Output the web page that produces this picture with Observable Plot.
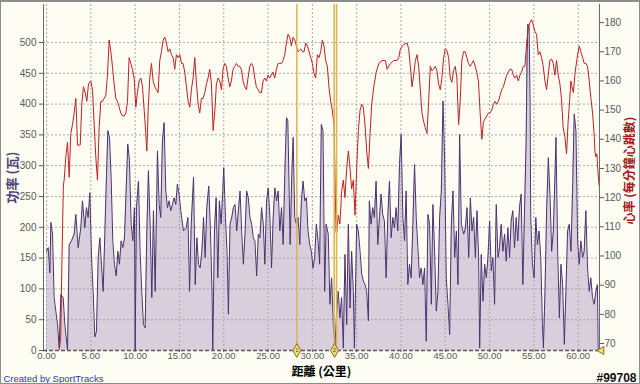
<!DOCTYPE html>
<html>
<head>
<meta charset="utf-8">
<script src="https://cdn.jsdelivr.net/npm/d3@7"></script>
<script src="https://cdn.jsdelivr.net/npm/@observablehq/plot@0.6"></script>
<style>
  html, body { margin: 0; padding: 0; background: #fdfdf4; }
  #wrap { position: relative; width: 640px; height: 384px; overflow: hidden; background: #fdfdf4; }
  #wrap svg { position: absolute; left: 0; top: 0; }
  #border { position: absolute; left: 0; top: 0; width: 640px; height: 384px; box-sizing: border-box;
            border: 1px solid #8c8c8c; border-top: 2px solid #8c8c8c; pointer-events: none; }
</style>
</head>
<body>
<div id="wrap"><div id="border"></div></div>
<script>
// ---- data (distance km, power W) ----
const powerSamples = [
[0,161],[0.19,167],[0.38,126],[0.49,208],[0.68,189],[0.86,86],[1.05,64],[1.24,42],[1.43,4],[1.62,91],
[1.88,86],[2.07,42],[2.37,0],[2.56,172],[2.82,178],[3.12,189],[3.31,221],[3.57,167],[3.87,199],[4.06,243],
[4.32,199],[4.51,232],[4.70,216],[4.89,256],[5.08,151],[5.26,96],[5.45,22],[5.64,31],[5.83,151],[6.02,183],
[6.20,140],[6.39,96],[6.58,189],[6.77,286],[6.92,357],[7.11,346],[7.29,281],[7.48,178],[7.67,140],[7.86,121],
[8.05,161],[8.23,140],[8.42,178],[8.61,167],[8.80,183],[8.98,259],[9.17,335],[9.36,308],[9.55,205],[9.74,178],
[9.92,232],[10.00,0],[10.15,232],[10.38,275],[10.56,161],[10.75,96],[10.94,42],[11.13,37],[11.32,194],[11.50,292],
[11.69,205],[11.88,86],[12.07,227],[12.26,96],[12.52,324],[12.71,237],[12.89,216],[13.08,340],[13.27,370],[13.46,259],
[13.65,232],[13.83,243],[14.02,227],[14.21,237],[14.40,248],[14.59,237],[14.77,270],[14.96,254],[15.15,227],[15.45,194],
[15.77,199],[15.96,216],[16.14,96],[16.33,205],[16.59,281],[16.78,107],[16.97,183],[17.15,140],[17.34,134],[17.53,161],
[17.72,216],[17.90,151],[18.09,232],[18.31,267],[18.50,194],[18.69,86],[18.76,0],[18.95,194],[19.14,248],[19.33,118],
[19.51,243],[19.70,205],[19.89,259],[20.00,297],[20.19,216],[20.37,161],[20.52,59],[20.71,205],[20.90,216],[21.09,232],
[21.27,237],[21.46,194],[21.65,227],[21.84,259],[22.02,194],[22.21,140],[22.40,189],[22.58,259],[22.77,248],[22.96,216],
[23.15,205],[23.33,183],[23.52,178],[23.71,121],[23.90,189],[24.08,183],[24.27,232],[24.46,205],[24.64,140],[24.83,243],
[25.02,264],[25.21,216],[25.39,134],[25.58,216],[25.77,264],[25.96,243],[26.14,259],[26.33,194],[26.52,232],[26.70,172],
[26.89,286],[27.08,378],[27.23,373],[27.38,259],[27.49,172],[27.68,286],[27.83,346],[28.01,216],[28.20,205],[28.39,216],
[28.58,172],[28.76,243],[28.95,275],[29.14,243],[29.33,248],[29.51,194],[29.70,172],[29.89,161],[30.07,134],[30.26,151],
[30.45,205],[30.64,178],[30.82,140],[31.01,367],[31.20,357],[31.39,96],[31.55,205],[31.79,189],[31.98,75],[32.17,118],
[32.36,42],[32.55,10],[32.74,60],[32.92,96],[33.11,53],[33.30,86],[33.49,4],[33.68,156],[33.87,42],[34.06,205],
[34.25,69],[34.43,161],[34.62,96],[34.74,4],[35.00,205],[35.19,194],[35.38,161],[35.57,124],[35.75,113],[35.94,107],
[36.13,96],[36.32,48],[36.43,243],[36.62,205],[36.81,232],[37.00,216],[37.19,275],[37.38,172],[37.57,216],[37.75,254],
[37.94,221],[38.13,210],[38.32,118],[38.51,216],[38.70,275],[38.89,183],[39.08,216],[39.26,199],[39.45,232],[39.64,194],
[39.83,302],[40.02,351],[40.21,216],[40.40,178],[40.58,259],[40.77,107],[40.96,140],[41.15,118],[41.34,205],[41.53,302],
[41.72,216],[41.91,167],[42.09,118],[42.28,134],[42.47,107],[42.66,134],[42.85,15],[43.04,221],[43.23,205],[43.42,75],
[43.60,237],[43.79,161],[43.98,64],[44.17,96],[44.36,216],[44.55,259],[44.74,405],[44.92,313],[45.11,118],[45.30,75],
[45.49,26],[45.68,205],[45.87,259],[46.06,151],[46.25,194],[46.43,107],[46.62,351],[46.81,205],[47.08,189],[47.27,199],
[47.45,232],[47.64,151],[47.83,248],[48.01,194],[48.20,216],[48.39,151],[48.58,227],[48.76,151],[48.88,4],[49.06,156],
[49.25,80],[49.44,140],[49.63,118],[49.81,151],[50.00,210],[50.19,129],[50.37,151],[50.56,75],[50.75,237],[50.94,151],
[51.12,167],[51.31,205],[51.50,161],[51.69,189],[51.87,145],[52.06,199],[52.25,151],[52.43,210],[52.62,227],[52.81,167],
[53.00,216],[53.18,178],[53.37,232],[53.56,254],[53.75,107],[53.93,221],[54.12,340],[54.23,480],[54.31,530],[54.46,525],
[54.57,400],[54.64,216],[54.83,140],[55.02,118],[55.21,216],[55.39,172],[55.58,194],[55.77,151],[55.96,42],[56.07,4],
[56.25,96],[56.44,232],[56.63,313],[56.82,248],[57.00,161],[57.19,194],[57.38,286],[57.49,346],[57.68,161],[57.87,53],
[58.05,140],[58.24,107],[58.43,10],[58.61,96],[58.80,194],[58.99,205],[59.18,161],[59.36,259],[59.55,384],[59.74,357],
[59.93,178],[60.11,140],[60.30,178],[60.49,151],[60.67,161],[60.86,227],[61.05,134],[61.24,96],[61.42,118],[61.61,86],
[61.80,75],[61.99,96],[62.17,107],[62.25,0]
];

// ---- data (distance km, heart rate bpm) ----
const hrSamples = [
[1.45,68],[1.60,72],[1.75,100],[1.90,124],[1.99,126],[2.18,134],[2.37,139],[2.56,127],[2.74,142],[2.93,145],
[3.12,149],[3.31,154],[3.50,138],[3.80,138],[3.98,152],[4.17,158],[4.36,156],[4.55,153],[4.74,159],[5.00,160],
[5.19,157],[5.38,145],[5.56,134],[5.75,126],[5.94,144],[6.13,153],[6.32,153],[6.50,154],[6.69,155],[6.88,162],
[7.07,174],[7.26,170],[7.44,165],[7.63,159],[7.82,154],[8.01,153],[8.20,151],[8.38,149],[8.57,148],[8.76,148],
[8.95,149],[9.14,153],[9.32,168],[9.51,166],[9.70,164],[9.89,161],[10.08,151],[10.26,156],[10.45,160],[10.64,161],
[10.83,158],[11.02,150],[11.20,142],[11.32,136],[11.47,150],[11.65,161],[11.84,166],[12.03,160],[12.22,158],[12.41,157],
[12.59,156],[12.78,167],[12.97,170],[13.16,174],[13.35,175],[13.53,173],[13.72,170],[13.91,171],[14.10,169],[14.29,168],
[14.47,164],[14.66,169],[14.85,168],[15.04,169],[15.23,166],[15.41,166],[15.60,163],[15.79,158],[15.98,153],[16.17,151],
[16.35,157],[16.54,161],[16.73,168],[16.92,159],[17.11,152],[17.29,149],[17.48,154],[17.67,154],[17.86,156],[18.05,159],
[18.23,161],[18.42,164],[18.61,159],[18.80,143],[19.00,150],[19.17,159],[19.36,161],[19.55,160],[19.74,157],[19.92,164],
[20.11,166],[20.30,165],[20.49,161],[20.68,158],[20.86,160],[21.05,164],[21.24,165],[21.43,166],[21.62,165],[21.80,165],
[21.99,164],[22.18,160],[22.37,158],[22.56,157],[22.74,161],[22.93,165],[23.12,166],[23.31,165],[23.50,161],[23.68,158],
[23.87,157],[24.06,156],[24.25,156],[24.44,160],[24.62,161],[24.81,160],[25.00,162],[25.19,161],[25.38,162],[25.56,163],
[25.75,161],[25.94,164],[26.13,166],[26.32,166],[26.50,166],[26.69,167],[26.88,169],[27.07,173],[27.26,176],[27.44,175],
[27.63,172],[27.82,175],[28.01,174],[28.20,172],[28.38,170],[28.69,171],[28.88,170],[29.06,170],[29.25,173],[29.44,172],
[29.63,170],[29.81,168],[30.00,166],[30.19,162.5],[30.37,161],[30.56,169],[30.75,168],[30.94,170],[31.12,174],[31.31,172],
[31.50,167],[31.69,165],[31.87,158],[32.06,153],[32.25,150],[32.45,145],[32.58,122],[32.68,108],[32.74,108],[32.92,114],
[33.11,111],[33.30,122],[33.49,126],[33.68,120],[33.87,130],[34.06,136],[34.25,130],[34.43,123],[34.62,126],[34.81,114],
[35.00,130],[35.19,143],[35.38,150],[35.57,152],[35.75,151],[35.94,145],[36.13,136],[36.32,130],[36.51,142],[36.70,152],
[36.93,158],[37.20,163],[37.50,166],[37.87,167],[38.25,167],[38.43,164],[38.81,166],[39.18,167],[39.56,167],[39.75,168],
[39.93,171],[40.31,172.5],[40.68,173],[40.87,171],[41.06,165],[41.24,158],[41.43,162],[41.62,167],[41.81,169],[41.99,165],
[42.18,157],[42.37,149],[42.56,146],[42.74,144],[42.93,142],[43.12,153],[43.31,165],[43.49,163.5],[43.68,164],[43.87,165],
[44.06,163.5],[44.24,159],[44.43,157],[44.62,161],[44.81,168],[44.99,171],[45.18,170.5],[45.37,168],[45.56,161],[45.74,159.5],
[45.93,163.5],[46.12,165],[46.31,161],[46.50,145],[46.68,153],[46.87,167],[47.06,170],[47.24,170],[47.43,168],[47.62,166],
[47.81,165],[47.99,166],[48.18,167],[48.37,165],[48.55,163],[48.74,160],[48.93,149],[49.12,140],[49.30,146],[49.49,147],
[49.68,148],[49.87,149],[50.05,149],[50.24,150],[50.43,152],[50.62,153],[50.80,152],[50.99,153],[51.18,155],[51.36,157],
[51.55,158],[51.74,160],[51.93,162],[52.11,163],[52.30,164],[52.49,164],[52.68,162],[52.86,161],[53.05,162],[53.24,160],
[53.43,162],[53.61,163],[53.80,165],[53.99,165],[54.18,173],[54.36,178],[54.55,180],[54.74,181],[54.93,179],[55.11,177],
[55.30,176],[55.49,169],[55.68,170],[55.86,168],[56.05,165],[56.24,160],[56.43,157],[56.61,162],[56.80,167],[56.99,167.5],
[57.18,166],[57.36,162],[57.55,167],[57.74,162],[57.93,159],[58.11,154],[58.30,144],[58.49,141],[58.68,135],[58.86,146],
[59.05,154],[59.17,160],[59.30,158],[59.45,156],[59.65,163],[59.93,169],[60.12,172],[60.30,170],[60.49,168],[60.68,166],
[60.87,166],[61.05,165],[61.24,160],[61.43,154],[61.62,149],[61.81,141],[61.88,136],[61.99,134],[62.10,135],[62.25,128],
[62.36,124]
];

// ---- ticks, markers, labels ----
const distanceTicks = [0,5,10,15,20,25,30,35,40,45,50,55,60];
const powerTicks = [0,50,100,150,200,250,300,350,400,450,500];
const hrTicks = [70,80,90,100,110,120,130,140,150,160,170,180];
const markerLines = [28.25, 32.46, 32.73];
const markerDiamonds = [{km: 28.25, label: "1"}, {km: 32.5, label: "2"}];
const endMarker = [62.4];
const xDomain = [-0.34, 62.4];
const powerDomain = [0, 561.7];
const hrDomain = [67.6, 186.2];
const labels = {
  x: "距離 (公里)",
  power: "功率 (瓦)",
  hr: "心率 (每分鐘心跳數)",
  credit: "Created by SportTracks",
  id: "#99708"
};

const power = powerSamples.map(([km, w]) => ({km, w}));
const hr = hrSamples.map(([km, bpm]) => ({km, bpm}));

const common = {
  width: 640, height: 384,
  marginLeft: 43, marginRight: 41, marginTop: 4, marginBottom: 34,
  style: {background: "transparent", fontFamily: "'Liberation Sans', Arial, sans-serif", fontSize: "10px", color: "#5a5a5a", overflow: "visible"}
};

const plotA = Plot.plot({
  ...common,
  x: {domain: xDomain, axis: null},
  y: {domain: powerDomain, axis: null},
  marks: [
    Plot.areaY(power, {x: "km", y: "w", fill: "#d9cfdc"}),
    Plot.gridX(distanceTicks, {stroke: "#a9a9a9", strokeOpacity: 1, strokeDasharray: "2,2"}),
    Plot.gridY(powerTicks.filter(d => d > 0), {stroke: "#a9a9a9", strokeOpacity: 1, strokeDasharray: "2,2"}),
    Plot.lineY(power, {x: "km", y: "w", stroke: "#4a3270", strokeWidth: 1}),
    Plot.axisY(powerTicks, {anchor: "left", tickSize: 4, tickPadding: 3, label: null}),
    Plot.axisX(distanceTicks, {anchor: "bottom", tickSize: 2, tickPadding: 0, label: null, fontSize: 9.5, tickFormat: d => d.toFixed(2)}),
    Plot.ruleX([xDomain[0]], {stroke: "#6a6a6a", strokeWidth: 1}),
    Plot.ruleY([0], {stroke: "#555", strokeWidth: 1.6, strokeDasharray: "4,2"}),
    Plot.text([labels.power], {frameAnchor: "left", dx: -31, rotate: -90, textAnchor: "middle", lineAnchor: "middle",
      fill: "#4f3e75", fontWeight: "bold", fontSize: 13, fontFamily: "'Noto Sans CJK TC', sans-serif"}),
    Plot.text([labels.x], {frameAnchor: "bottom", dy: 21.5, textAnchor: "middle", lineAnchor: "middle",
      fill: "#000", fontWeight: "bold", fontSize: 12, fontFamily: "'Noto Sans CJK TC', sans-serif"}),
    Plot.text([labels.credit], {frameAnchor: "bottom-left", dx: -40, dy: 28, textAnchor: "start", lineAnchor: "middle",
      fill: "#1d3c9e", fontSize: 9.5}),
    Plot.text([labels.id], {frameAnchor: "bottom-right", dx: 37, dy: 28, textAnchor: "end", lineAnchor: "middle",
      fill: "#111", stroke: "#fff", strokeWidth: 1, fontWeight: "bold", fontSize: 12})
  ]
});

const plotB = Plot.plot({
  ...common,
  x: {domain: xDomain, axis: null},
  y: {domain: hrDomain, axis: null},
  marks: [
    Plot.lineY(hr, {x: "km", y: "bpm", stroke: "#c41f1f", strokeWidth: 1}),
    Plot.ruleX([xDomain[1]], {stroke: "#6a6a6a", strokeWidth: 1}),
    Plot.axisY(hrTicks, {anchor: "right", tickSize: 4, tickPadding: 1, label: null}),
    Plot.ruleX(markerLines, {stroke: "#dbb44c", strokeWidth: 1.5}),
    Plot.dot(markerDiamonds, {x: "km", frameAnchor: "bottom", symbol: "diamond", r: 4.2, fill: "#efdc7c", stroke: "#8a6f1e", strokeWidth: 1}),
    Plot.text(markerDiamonds, {x: "km", frameAnchor: "bottom", text: "label", fontSize: 6, fill: "#5a4a10", lineAnchor: "middle"}),
    Plot.dot(endMarker, {x: d => d, frameAnchor: "bottom", symbol: "triangle", rotate: -90, r: 3, fill: "#efdc7c", stroke: "#8a6f1e", strokeWidth: 1, dx: 2}),
    Plot.text([labels.hr], {frameAnchor: "right", dx: 31, dy: -7, rotate: -90, textAnchor: "middle", lineAnchor: "middle",
      fill: "#a3161a", fontWeight: "bold", fontSize: 12, fontFamily: "'Noto Sans CJK TC', sans-serif"})
  ]
});

const wrap = document.getElementById("wrap");
wrap.insertBefore(plotA, wrap.firstChild);
wrap.insertBefore(plotB, document.getElementById("border"));
</script>
</body>
</html>
